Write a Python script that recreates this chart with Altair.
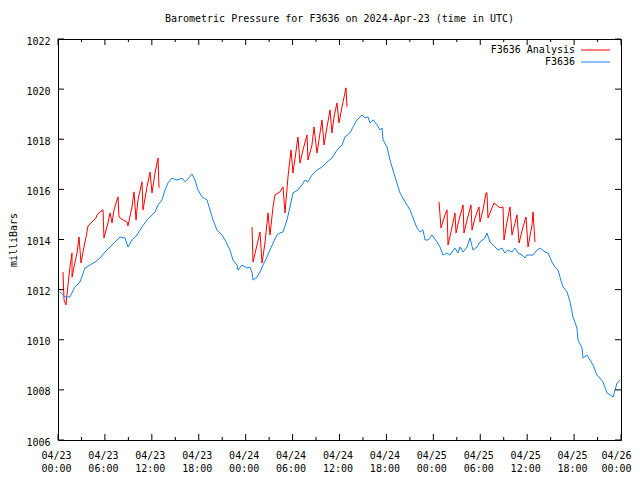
import altair as alt
import pandas as pd

# ---- data (hours since 2024-04-23 00:00 UTC, pressure in mb) ----
blue_hours = [0.26, 0.90, 1.53, 2.17, 2.81, 3.45, 4.09, 4.73, 5.37, 6.01, 6.65, 7.29, 7.93, 8.57, 8.95,
              9.46, 10.10, 10.74, 11.38, 12.02, 12.41, 12.79, 13.30, 13.69, 14.07, 14.58, 15.22, 15.86,
              16.24, 16.63, 17.14, 17.52, 17.90, 18.42, 19.06, 19.44, 19.82, 20.33, 20.97, 21.36, 22.00,
              22.38, 22.89, 23.02, 23.53, 24.17, 24.55, 24.81, 24.94, 25.45, 25.83, 26.22, 26.73, 27.11,
              27.50, 28.01, 28.39, 28.78, 29.29, 29.67, 30.05, 30.69, 31.21, 31.59, 31.97, 32.48, 33.12,
              33.76, 34.40, 35.04, 35.68, 36.32, 36.70, 37.34, 37.73, 38.24, 38.88, 39.26, 39.65, 39.90,
              40.29, 40.80, 41.18, 41.44, 41.57, 42.08, 42.46, 43.10, 43.74, 44.38, 45.02, 45.40, 45.91,
              46.30, 46.68, 46.94, 47.32, 47.83, 48.47, 48.85, 49.24, 49.75, 50.13, 50.77, 51.16, 51.41,
              51.80, 52.31, 52.69, 53.07, 53.59, 53.97, 54.61, 54.86, 55.25, 55.89, 56.27, 56.78, 57.17,
              57.55, 58.06, 58.45, 58.83, 59.34, 59.72, 59.98, 60.75, 61.26, 61.64, 62.28, 62.67, 63.18,
              63.56, 63.95, 64.20, 64.58, 65.10, 65.48, 65.86, 66.37, 66.50, 67.01, 67.14, 67.65, 68.04,
              68.42, 68.93, 69.32, 69.70, 70.21, 70.60, 70.98, 71.49, 71.88]
blue_mb = [1011.91, 1011.71, 1011.71, 1012.11, 1012.30, 1012.86, 1012.98, 1013.10, 1013.26, 1013.50,
           1013.70, 1013.90, 1014.10, 1014.06, 1013.70, 1013.98, 1014.18, 1014.50, 1014.78, 1014.98,
           1015.10, 1015.38, 1015.58, 1015.98, 1016.26, 1016.45, 1016.37, 1016.45, 1016.30, 1016.42,
           1016.61, 1016.37, 1015.98, 1015.70, 1015.58, 1015.18, 1014.78, 1014.38, 1014.18, 1013.98,
           1013.58, 1013.18, 1012.98, 1012.78, 1012.98, 1012.86, 1012.90, 1012.70, 1012.38, 1012.50,
           1012.70, 1012.98, 1013.30, 1013.58, 1013.86, 1014.18, 1014.26, 1014.30, 1014.78, 1015.30,
           1015.86, 1015.98, 1016.18, 1016.37, 1016.30, 1016.57, 1016.77, 1016.89, 1017.09, 1017.25,
           1017.57, 1017.77, 1018.09, 1018.25, 1018.49, 1018.77, 1018.97, 1018.85, 1018.89, 1018.65,
           1018.77, 1018.57, 1018.37, 1018.45, 1017.97, 1017.69, 1017.17, 1016.49, 1015.86, 1015.50,
           1015.18, 1014.86, 1014.46, 1014.30, 1014.38, 1013.98, 1013.98, 1014.18, 1013.90, 1013.70,
           1013.38, 1013.46, 1013.38, 1013.66, 1013.46, 1013.70, 1013.50, 1013.70, 1014.06, 1013.58,
           1013.70, 1013.90, 1014.06, 1014.26, 1013.90, 1013.70, 1013.58, 1013.66, 1013.46, 1013.58,
           1013.50, 1013.66, 1013.46, 1013.38, 1013.26, 1013.38, 1013.38, 1013.58, 1013.66, 1013.50,
           1013.46, 1013.10, 1012.90, 1012.78, 1012.50, 1012.11, 1011.91, 1011.51, 1010.91, 1010.47,
           1009.99, 1009.67, 1009.27, 1009.39, 1009.19, 1008.99, 1008.59, 1008.47, 1008.31, 1007.88,
           1007.80, 1007.72, 1008.27, 1008.39]

red1_hours = [0.64, 0.77, 1.02, 1.28, 1.53, 1.79, 1.80, 2.05, 2.43, 2.69, 2.94, 3.20, 3.58, 3.84, 4.35,
              4.86, 4.99, 5.37, 5.76, 5.88, 6.39, 6.65, 6.91, 7.16, 7.67, 7.80, 8.31, 8.82, 8.95, 9.46,
              9.72, 9.98, 10.23, 10.74, 10.87, 11.38, 11.77, 12.02, 12.41, 12.79, 12.92]
red1_mb = [1012.70, 1011.59, 1011.39, 1012.19, 1012.90, 1013.46, 1012.50, 1012.90, 1013.46, 1014.10,
           1013.06, 1013.50, 1014.10, 1014.54, 1014.70, 1014.86, 1014.98, 1015.10, 1015.18, 1014.06,
           1014.66, 1015.06, 1014.66, 1015.18, 1015.70, 1014.90, 1014.78, 1014.70, 1014.54, 1015.30,
           1015.90, 1014.78, 1015.58, 1016.30, 1015.18, 1016.10, 1016.69, 1015.86, 1016.65, 1017.25,
           1016.06]
red2_hours = [24.81, 24.94, 25.45, 25.83, 26.09, 26.47, 26.86, 27.11, 27.50, 27.75, 28.39, 28.78, 29.03,
              29.41, 29.80, 30.05, 30.69, 30.95, 31.33, 31.84, 31.97, 32.48, 32.74, 33.12, 33.76, 34.02,
              34.40, 34.79, 35.04, 35.30, 35.68, 35.94, 36.32, 36.83, 36.96]
red2_mb = [1014.50, 1013.10, 1013.78, 1014.30, 1013.06, 1013.86, 1015.06, 1014.18, 1015.30, 1015.78,
           1015.90, 1016.10, 1015.06, 1016.49, 1017.57, 1016.65, 1018.09, 1017.05, 1017.57, 1018.17,
           1017.17, 1017.77, 1018.49, 1017.45, 1018.77, 1017.77, 1018.49, 1019.17, 1018.25, 1018.89,
           1019.45, 1018.65, 1019.29, 1020.05, 1019.29]
red3_hours = [48.73, 48.98, 49.49, 49.75, 49.88, 50.39, 50.77, 50.90, 51.28, 51.80, 51.92, 52.31, 52.82,
              52.95, 53.33, 53.84, 53.97, 54.35, 54.74, 54.86, 54.99, 55.76, 56.53, 56.91, 57.04, 57.42,
              57.81, 58.06, 58.45, 58.70, 58.96, 59.47, 59.85, 60.11, 60.62, 60.75, 61.00]
red3_mb = [1015.50, 1014.46, 1014.98, 1015.18, 1013.78, 1014.50, 1015.06, 1014.26, 1014.78, 1015.38,
           1014.26, 1014.78, 1015.38, 1014.38, 1014.86, 1015.30, 1014.70, 1015.18, 1015.86, 1015.86,
           1014.86, 1015.46, 1015.26, 1015.30, 1013.98, 1014.70, 1015.30, 1014.18, 1014.66, 1014.98,
           1013.86, 1014.50, 1014.90, 1013.70, 1014.58, 1015.10, 1013.90]

series_names = ["F3636 Analysis", "F3636"]
series_colors = ["#ff0000", "#1a80e6"]
x_major_ticks = [0, 6, 12, 18, 24, 30, 36, 42, 48, 54, 60, 66, 72]
x_minor_ticks = [3, 9, 15, 21, 27, 33, 39, 45, 51, 57, 63, 69]
y_ticks = [1006, 1008, 1010, 1012, 1014, 1016, 1018, 1020, 1022]
title_text = "Barometric Pressure for F3636 on 2024-Apr-23 (time in UTC)"
y_title = "milliBars"

# ---- build table ----
rows = []
idx = 0
for seg, (hs, ps) in enumerate([(red1_hours, red1_mb), (red2_hours, red2_mb), (red3_hours, red3_mb)]):
    for h, p in zip(hs, ps):
        rows.append({"h": h, "p": p, "series": series_names[0], "seg": f"r{seg}", "idx": idx})
        idx += 1
for h, p in zip(blue_hours, blue_mb):
    rows.append({"h": h, "p": p, "series": series_names[1], "seg": "b", "idx": idx})
    idx += 1
df = pd.DataFrame(rows)

W, H = 563, 401
FONT = "DejaVu Sans Mono"
FS = 10

label_expr = ("['04/' + (23 + floor(datum.value / 24)), "
              "(datum.value % 24 < 10 ? '0' : '') + (datum.value % 24) + ':00']")

lines = alt.Chart(df).mark_line(strokeWidth=1, interpolate="linear").encode(
    x=alt.X("h:Q", scale=alt.Scale(domain=[0, 72], nice=False, zero=False),
            axis=alt.Axis(values=x_major_ticks, labelExpr=label_expr, title=None, grid=False,
                          ticks=False, domain=False, labelFont=FONT, labelFontSize=FS,
                          labelColor="black", labelPadding=10, labelLineHeight=13,
                          labelAlign={"condition": {"test": "datum.value == 72", "value": "right"},
                                      "value": "center"},
                          labelOffset={"condition": {"test": "datum.value == 72", "value": 10},
                                       "value": -2},
                          labelFlush=False, labelOverlap=False)),
    y=alt.Y("p:Q", scale=alt.Scale(domain=[1006, 1022], nice=False, zero=False),
            axis=alt.Axis(values=y_ticks, title=None, grid=False, ticks=False, domain=False,
                          labelFont=FONT, labelFontSize=FS, labelColor="black", labelPadding=8,
                          labelOffset=2, labelFlush=False, labelOverlap=False, format="d")),
    color=alt.Color("series:N", scale=alt.Scale(domain=series_names, range=series_colors), legend=None),
    detail="seg:N",
    order="idx:Q",
)

xmaj = pd.DataFrame({"h": x_major_ticks})
xmin = pd.DataFrame({"h": x_minor_ticks})
yt = pd.DataFrame({"p": y_ticks})

def xtick(data, y0, y1):
    return alt.Chart(data).mark_rule(color="black", strokeWidth=1).encode(
        x=alt.X("h:Q", title=None), y=alt.value(y0), y2=alt.value(y1))

def ytick(data, x0, x1):
    return alt.Chart(data).mark_rule(color="black", strokeWidth=1).encode(
        y=alt.Y("p:Q", title=None), x=alt.value(x0), x2=alt.value(x1))

ticks = [
    xtick(xmaj, H, H - 6), xtick(xmin, H, H - 3),
    xtick(xmaj, 0, 6), xtick(xmin, 0, 3),
    ytick(yt, 0, 6), ytick(yt, W, W - 6),
]

one = pd.DataFrame({"a": [1]})
title = alt.Chart(one).mark_text(font=FONT, fontSize=FS, color="black", align="center",
                                 baseline="middle").encode(
    x=alt.value(W / 2), y=alt.value(-20), text=alt.value(title_text))
ytitle = alt.Chart(one).mark_text(font=FONT, fontSize=FS, color="black", align="center",
                                  baseline="middle", angle=270).encode(
    x=alt.value(-44), y=alt.value(201), text=alt.value(y_title))

legend_parts = []
for i, (name, col) in enumerate(zip(series_names, series_colors)):
    yy = 11 + 12 * i
    legend_parts.append(alt.Chart(one).mark_text(font=FONT, fontSize=FS, color="black",
                                                 align="right", baseline="middle").encode(
        x=alt.value(517), y=alt.value(yy), text=alt.value(name)))
    legend_parts.append(alt.Chart(one).mark_rule(color=col, strokeWidth=1).encode(
        x=alt.value(523), x2=alt.value(552), y=alt.value(yy)))

chart = alt.layer(lines, *ticks, title, ytitle, *legend_parts).properties(
    width=W, height=H,
    autosize=alt.AutoSizeParams(type="none"),
    padding={"left": 50, "top": 31, "right": 11, "bottom": 32},
    background="white",
).configure_view(stroke="black", strokeWidth=1)

chart.save("out.html", embed_options={"renderer": "svg", "actions": False})
